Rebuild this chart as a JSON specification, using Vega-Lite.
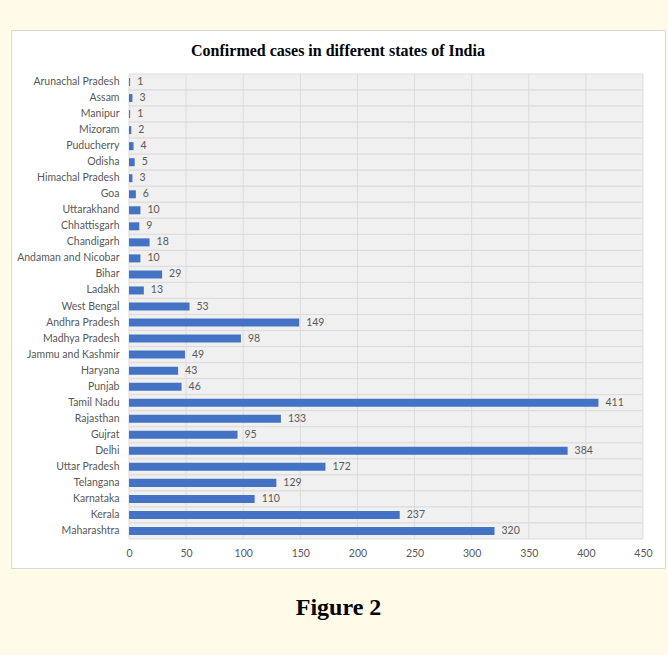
{
  "$schema": "https://vega.github.io/schema/vega-lite/v6.json",
  "autosize": {"type": "none"},
  "width": 654,
  "height": 538,
  "padding": {"left": 11, "top": 30, "right": 3, "bottom": 87},
  "background": "#fffbe8",
  "view": {"fill": "#ffffff", "stroke": "#d9d9d9", "strokeWidth": 1},
  "title": {
    "text": "Confirmed cases in different states of India",
    "font": "Liberation Serif",
    "fontSize": 16,
    "fontWeight": "bold",
    "color": "#000000",
    "anchor": "middle",
    "frame": "group",
    "offset": -29
  },
  "datasets": {
    "states": [
      {"state": "Arunachal Pradesh", "cases": 1},
      {"state": "Assam", "cases": 3},
      {"state": "Manipur", "cases": 1},
      {"state": "Mizoram", "cases": 2},
      {"state": "Puducherry", "cases": 4},
      {"state": "Odisha", "cases": 5},
      {"state": "Himachal Pradesh", "cases": 3},
      {"state": "Goa", "cases": 6},
      {"state": "Uttarakhand", "cases": 10},
      {"state": "Chhattisgarh", "cases": 9},
      {"state": "Chandigarh", "cases": 18},
      {"state": "Andaman and Nicobar", "cases": 10},
      {"state": "Bihar", "cases": 29},
      {"state": "Ladakh", "cases": 13},
      {"state": "West Bengal", "cases": 53},
      {"state": "Andhra Pradesh", "cases": 149},
      {"state": "Madhya Pradesh", "cases": 98},
      {"state": "Jammu and Kashmir", "cases": 49},
      {"state": "Haryana", "cases": 43},
      {"state": "Punjab", "cases": 46},
      {"state": "Tamil Nadu", "cases": 411},
      {"state": "Rajasthan", "cases": 133},
      {"state": "Gujrat", "cases": 95},
      {"state": "Delhi", "cases": 384},
      {"state": "Uttar Pradesh", "cases": 172},
      {"state": "Telangana", "cases": 129},
      {"state": "Karnataka", "cases": 110},
      {"state": "Kerala", "cases": 237},
      {"state": "Maharashtra", "cases": 320}
    ],
    "gridTicks": [
      {"v": 50}, {"v": 100}, {"v": 150}, {"v": 200}, {"v": 250}, {"v": 300}, {"v": 350}, {"v": 400}
    ]
  },
  "layer": [
    {
      "data": {"name": "states"},
      "mark": {"type": "bar", "fill": "#f0f0f0", "stroke": "#dcdcdc", "strokeWidth": 1, "height": {"band": 2}},
      "encoding": {
        "y": {
          "field": "state", "type": "nominal", "sort": null,
          "scale": {"paddingInner": 0.5, "paddingOuter": 0.25, "range": [44, 509], "round": false},
          "axis": {
            "orient": "left", "offset": -118, "domain": false, "ticks": false, "grid": false,
            "labelPadding": 10, "labelFont": "Lato", "labelFontSize": 10.5, "labelColor": "#595959",
            "title": null
          }
        },
        "x": {
          "datum": 0, "type": "quantitative",
          "scale": {"domain": [-103.3, 469.26], "nice": false, "zero": false},
          "axis": {
            "orient": "bottom", "offset": -29, "values": [0, 50, 100, 150, 200, 250, 300, 350, 400, 450],
            "domain": false, "ticks": false, "grid": false,
            "labelPadding": 9, "labelFont": "Lato", "labelFontSize": 10.5, "labelColor": "#595959",
            "title": "Figure 2", "titleFont": "Liberation Serif", "titleFontSize": 24, "titleFontWeight": "bold",
            "titleColor": "#000000", "titlePadding": 37
          }
        },
        "x2": {"datum": 450}
      }
    },
    {
      "data": {"name": "gridTicks"},
      "mark": {"type": "rule", "color": "#dcdcdc", "strokeWidth": 1},
      "encoding": {
        "x": {"field": "v", "type": "quantitative", "scale": {"domain": [-103.3, 469.26], "nice": false, "zero": false}},
        "y": {"datum": "Arunachal Pradesh", "type": "nominal", "bandPosition": -0.5},
        "y2": {"datum": "Maharashtra", "bandPosition": 1.5}
      }
    },
    {
      "data": {"name": "states"},
      "mark": {"type": "bar", "color": "#4472c4"},
      "encoding": {
        "y": {"field": "state", "type": "nominal", "sort": null},
        "x": {"field": "cases", "type": "quantitative", "scale": {"domain": [-103.3, 469.26], "nice": false, "zero": false}}
      }
    },
    {
      "data": {"name": "states"},
      "mark": {"type": "text", "align": "left", "baseline": "middle", "dx": 7, "font": "Lato", "fontSize": 10.5, "color": "#595959"},
      "encoding": {
        "y": {"field": "state", "type": "nominal", "sort": null},
        "x": {"field": "cases", "type": "quantitative", "scale": {"domain": [-103.3, 469.26], "nice": false, "zero": false}},
        "text": {"field": "cases", "type": "quantitative"}
      }
    }
  ]
}
